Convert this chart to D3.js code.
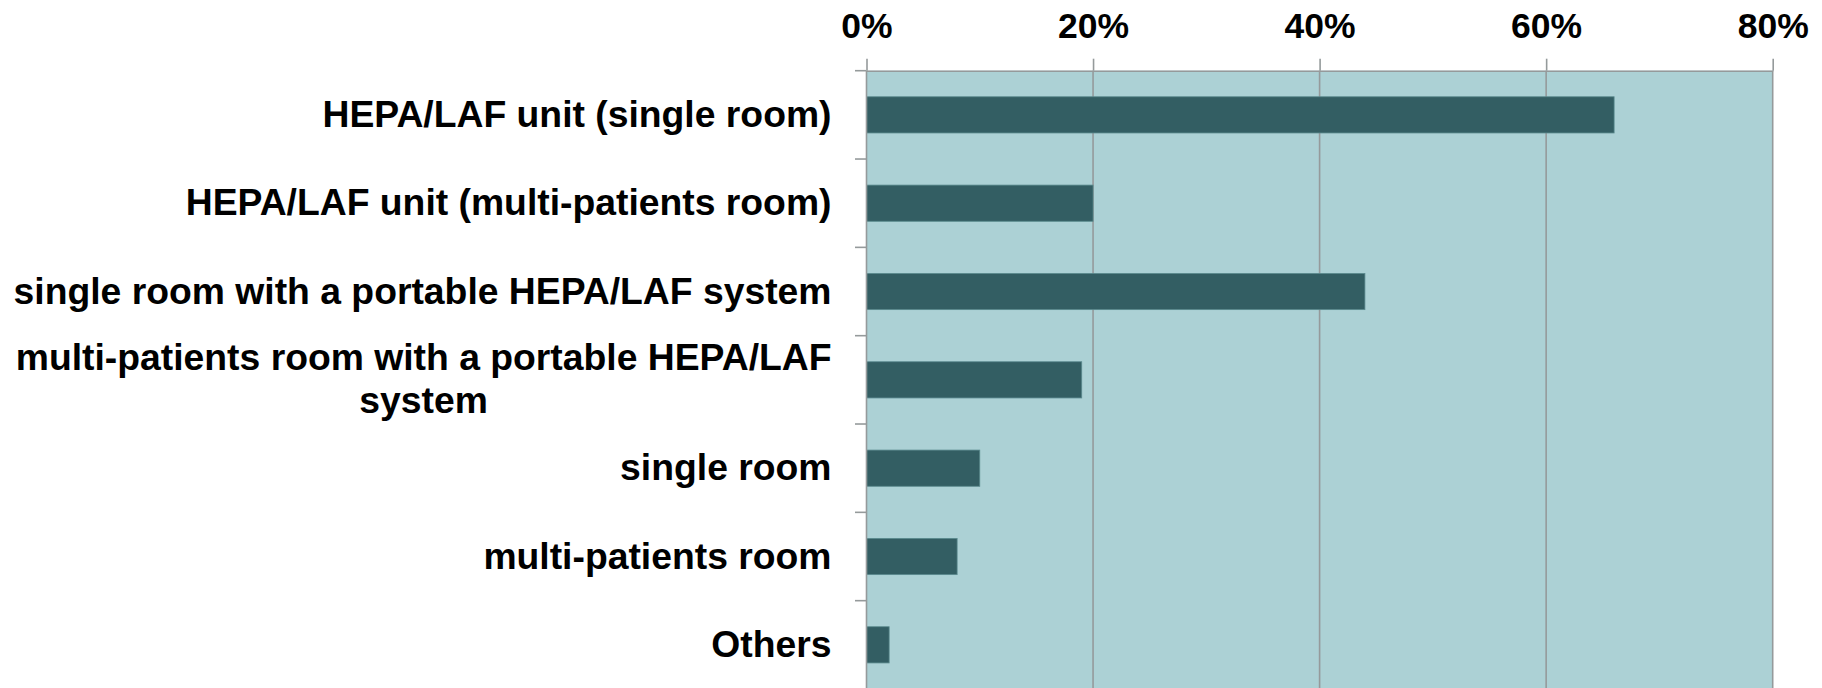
<!DOCTYPE html>
<html>
<head>
<meta charset="utf-8">
<script src="https://cdn.jsdelivr.net/npm/d3@7"></script>
<style>
  html, body { margin: 0; padding: 0; background: #ffffff; }
  svg { display: block; }
  text { font-family: "Liberation Sans", Arial, sans-serif; font-weight: bold; fill: #000; }
</style>
</head>
<body>
<svg id="chart" width="1822" height="688"></svg>
<script>
// Room types used for protective isolation, with share of centres (%)
const categories = [
  "HEPA/LAF unit (single room)",
  "HEPA/LAF unit (multi-patients room)",
  "single room with a portable HEPA/LAF system",
  "multi-patients room with a portable HEPA/LAF|system",
  "single room",
  "multi-patients room",
  "Others"
];
const values = [66, 20, 44, 19, 10, 8, 2];
const xTicks = [0, 20, 40, 60, 80];

const svg = d3.select("#chart");
const plotLeft = 866.5, plotRight = 1772.7, plotTop = 70.7, plotBottom = 689;

const x = d3.scaleLinear().domain([0, 80]).range([plotLeft, plotRight]);
const y = d3.scaleBand().domain(categories).range([plotTop, plotBottom])
  .paddingInner(0.59).paddingOuter(0.295);

// plot area
svg.append("rect")
  .attr("x", plotLeft).attr("y", plotTop)
  .attr("width", plotRight - plotLeft).attr("height", plotBottom - plotTop)
  .attr("fill", "#acd1d5");

// vertical gridlines
svg.append("g").selectAll("line").data(xTicks.slice(1)).join("line")
  .attr("x1", d => x(d)).attr("x2", d => x(d))
  .attr("y1", plotTop).attr("y2", plotBottom)
  .attr("stroke", "#959a9b").attr("stroke-width", 1.6);

// bars
svg.append("g").selectAll("rect").data(categories).join("rect")
  .attr("x", x(0))
  .attr("y", d => y(d))
  .attr("width", (d, i) => x(values[i]) - x(0))
  .attr("height", y.bandwidth())
  .attr("fill", "#335e63")
  .attr("stroke", "#5b8a8e").attr("stroke-width", 0.8);

// top axis
const xAxis = d3.axisTop(x).tickValues(xTicks).tickFormat(d => d + "%")
  .tickSize(12).tickSizeOuter(0).tickPadding(21);
const gx = svg.append("g").attr("transform", `translate(0,${plotTop})`).call(xAxis);
gx.select(".domain").attr("stroke", "#959a9b").attr("stroke-width", 1.6);
gx.selectAll(".tick line").attr("stroke", "#959a9b").attr("stroke-width", 1.6);
gx.selectAll(".tick text").attr("font-size", 35.5).attr("font-family", "Liberation Sans, Arial, sans-serif")
  .attr("font-weight", "bold").attr("fill", "#000");

// left axis line and boundary ticks
const step = y.step();
const gy = svg.append("g");
gy.append("line").attr("x1", plotLeft).attr("x2", plotLeft).attr("y1", plotTop).attr("y2", plotBottom)
  .attr("stroke", "#959a9b").attr("stroke-width", 1.6);
gy.selectAll("line.tk").data(d3.range(categories.length)).join("line")
  .attr("class", "tk")
  .attr("x1", plotLeft - 11.5).attr("x2", plotLeft)
  .attr("y1", i => plotTop + i * step).attr("y2", i => plotTop + i * step)
  .attr("stroke", "#959a9b").attr("stroke-width", 1.6);

// category labels (multi-line labels centred within a right-aligned block)
const labelRight = 831.5, lineH = 43, fs = 37.3;
categories.forEach(cat => {
  const lines = cat.split("|");
  const cy = y(cat) + y.bandwidth() / 2;
  const g = svg.append("g");
  const texts = lines.map((ln, i) => g.append("text")
    .attr("font-size", fs)
    .attr("y", cy + (i - (lines.length - 1) / 2) * lineH + 12)
    .text(ln));
  const widths = texts.map(t => t.node().getComputedTextLength());
  const maxW = d3.max(widths);
  texts.forEach(t => t.attr("text-anchor", "middle").attr("x", labelRight - maxW / 2));
});
</script>
</body>
</html>
